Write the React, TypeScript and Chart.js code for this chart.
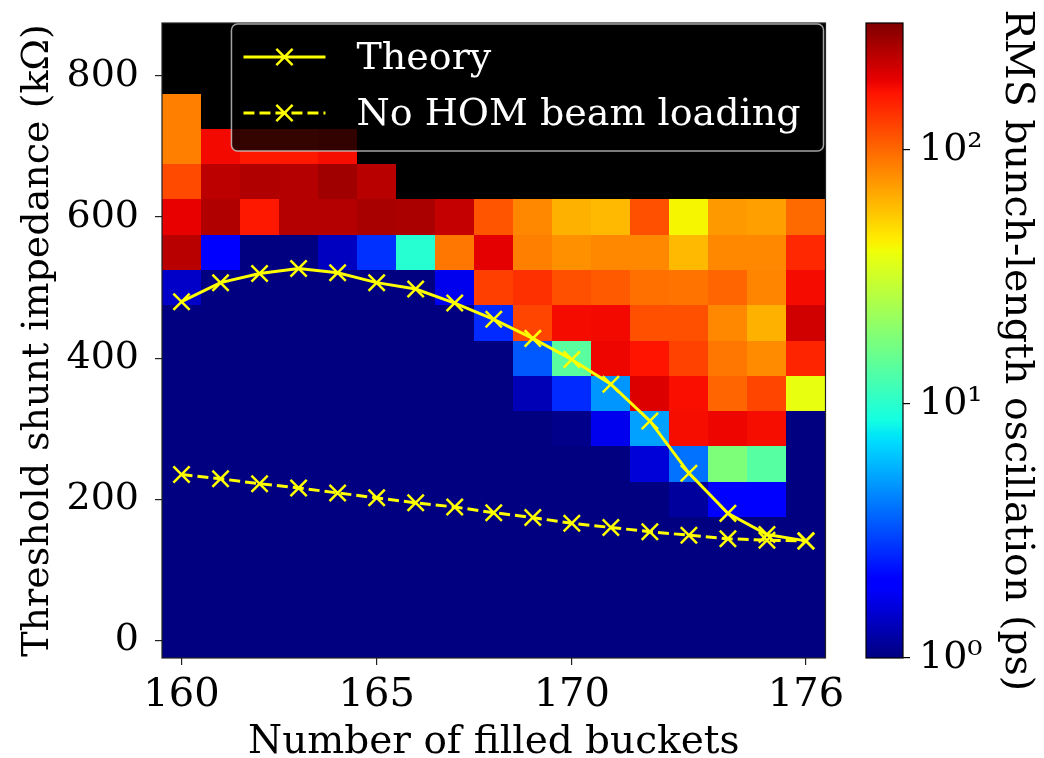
import React, { useEffect, useRef } from 'react';
import { Chart, registerables } from 'chart.js';

Chart.register(...registerables);

// ---------------- data ----------------
const buckets = [160, 161, 162, 163, 164, 165, 166, 167, 168, 169, 170, 171, 172, 173, 174, 175, 176];
const xTicks = [160, 165, 170, 176];
const yTicks = [0, 200, 400, 600, 800];
const cbTicks = [1, 10, 100];
const cbMin = 1;
const cbMax = 316.2;
const rowStep = 50; // kΩ between simulated impedance rows
const colStep = 1; // buckets between simulated columns

const N = null;
// RMS bunch-length oscillation (ps) per impedance row, one value per bucket count
const rms750 = [87, N, N, N, N, N, N, N, N, N, N, N, N, N, N, N, N];
const rms700 = [87, 178, 163, 163, 175, N, N, N, N, N, N, N, N, N, N, N, N];
const rms650 = [120, 234, 248, 244, 269, 239, N, N, N, N, N, N, N, N, N, N, N];
const rms600 = [188, 248, 163, 244, 244, 258, 256, 225, 112, 82, 64, 61, 116, 42, 74, 71, 99];
const rms550 = [239, 2.0, 1, 1, 1.38, 2.7, 9.8, 91, 192, 87, 78, 82, 82, 61, 82, 82, 148];
const rms500 = [1.43, 1, 1, 1, 1, 1, 1, 1.73, 128, 141, 116, 109, 95, 93, 102, 84, 176];
const rms450 = [1, 1, 1, 1, 1, 1, 1, 1, 2.6, 124, 176, 178, 116, 116, 82, 64, 212];
const rms400 = [1, 1, 1, 1, 1, 1, 1, 1, 1, 3.4, 14, 183, 167, 126, 91, 80, 151];
const rms350 = [1, 1, 1, 1, 1, 1, 1, 1, 1, 1.32, 2.6, 4.8, 200, 173, 102, 124, 38];
const rms300 = [1, 1, 1, 1, 1, 1, 1, 1, 1, 1, 1.06, 1.73, 5.1, 175, 183, 175, 1];
const rms250 = [1, 1, 1, 1, 1, 1, 1, 1, 1, 1, 1, 1, 1.55, 3.9, 18, 13.6, 1];
const rms200 = [1, 1, 1, 1, 1, 1, 1, 1, 1, 1, 1, 1, 1, 1.15, 2.0, 1.9, 1];
const rms150 = [1, 1, 1, 1, 1, 1, 1, 1, 1, 1, 1, 1, 1, 1, 1, 1, 1];
const rms100 = [1, 1, 1, 1, 1, 1, 1, 1, 1, 1, 1, 1, 1, 1, 1, 1, 1];
const rms50 = [1, 1, 1, 1, 1, 1, 1, 1, 1, 1, 1, 1, 1, 1, 1, 1, 1];
const rms0 = [1, 1, 1, 1, 1, 1, 1, 1, 1, 1, 1, 1, 1, 1, 1, 1, 1];

const impedanceRows = [750, 700, 650, 600, 550, 500, 450, 400, 350, 300, 250, 200, 150, 100, 50, 0];
const rmsRows = [rms750, rms700, rms650, rms600, rms550, rms500, rms450, rms400, rms350, rms300, rms250, rms200, rms150, rms100, rms50, rms0];

const theoryThreshold = [480, 507, 520, 527, 521, 507, 498, 478, 455, 428, 398, 363, 311, 237, 180, 150, 141];
const noHomThreshold = [235, 229, 222, 216, 209, 202, 195, 189, 181, 174, 166, 160, 154, 149, 144, 142, 141];

// ---------------- styling helpers ----------------
const FONT = '"DejaVu Serif", serif';
const jetR = [[0, 0], [0.35, 0], [0.66, 1], [0.89, 1], [1, 0.5]];
const jetG = [[0, 0], [0.125, 0], [0.375, 1], [0.64, 1], [0.91, 0], [1, 0]];
const jetB = [[0, 0.5], [0.11, 1], [0.34, 1], [0.65, 0], [1, 0]];
function seg(pts: number[][], t: number) {
  for (let i = 1; i < pts.length; i++) {
    if (t <= pts[i][0]) {
      const [x0, y0] = pts[i - 1];
      const [x1, y1] = pts[i];
      return y0 + ((t - x0) / (x1 - x0)) * (y1 - y0);
    }
  }
  return pts[pts.length - 1][1];
}
function jet(v: number) {
  let t = (Math.log10(v) - Math.log10(cbMin)) / (Math.log10(cbMax) - Math.log10(cbMin));
  t = Math.max(0, Math.min(1, t));
  const r = Math.round(seg(jetR, t) * 255);
  const g = Math.round(seg(jetG, t) * 255);
  const b = Math.round(seg(jetB, t) * 255);
  return `rgb(${r},${g},${b})`;
}
const SUP: Record<number, string> = { 0: '\u2070', 1: '\u00b9', 2: '\u00b2', 3: '\u00b3' };

const zeroPad = (s: any) => {
  s.paddingTop = 0;
  s.paddingBottom = 0;
  s.paddingLeft = 0;
  s.paddingRight = 0;
};

const heatPlugin = {
  id: 'heatmap',
  beforeDatasetsDraw(chart: any) {
    const { ctx, chartArea: a, scales } = chart;
    const xs = scales.x;
    const ys = scales.y;
    ctx.save();
    ctx.fillStyle = '#000';
    ctx.fillRect(a.left, a.top, a.width, a.height);
    ctx.beginPath();
    ctx.rect(a.left, a.top, a.width, a.height);
    ctx.clip();
    rmsRows.forEach((row, ri) => {
      const yc = impedanceRows[ri];
      row.forEach((v, ci) => {
        if (v == null) return;
        const xc = buckets[ci];
        const x0 = Math.round(xs.getPixelForValue(xc - colStep / 2));
        const x1 = Math.round(xs.getPixelForValue(xc + colStep / 2));
        const y0 = Math.round(ys.getPixelForValue(yc + rowStep / 2));
        const y1 = Math.round(ys.getPixelForValue(yc - rowStep / 2));
        ctx.fillStyle = jet(v);
        ctx.fillRect(x0, y0, x1 - x0, y1 - y0);
      });
    });
    ctx.restore();
  },
  afterDatasetsDraw(chart: any) {
    const { ctx, chartArea: a } = chart;
    ctx.save();
    // frame
    ctx.strokeStyle = '#222';
    ctx.lineWidth = 1.2;
    ctx.strokeRect(a.left, a.top, a.width, a.height);

    // legend
    ctx.font = `38px ${FONT}`;
    const ds = chart.data.datasets;
    const maxW = Math.max(...ds.map((d: any) => ctx.measureText(d.label).width));
    const padL = 12, handleW = 82, gap = 31, padR = 23;
    const w = padL + handleW + gap + maxW + padR;
    const h = 127;
    const right = a.right - 2;
    const top = a.top + 1;
    const left = right - w;
    ctx.beginPath();
    (ctx as any).roundRect(left, top, w, h, 6);
    ctx.fillStyle = 'rgba(0,0,0,0.8)';
    ctx.fill();
    ctx.strokeStyle = 'rgba(204,204,204,0.8)';
    ctx.lineWidth = 1.5;
    ctx.stroke();
    ds.forEach((d: any, i: number) => {
      const cy = top + 35 + i * 56;
      const hx0 = left + padL;
      const hx1 = hx0 + handleW;
      ctx.strokeStyle = d.borderColor;
      ctx.lineWidth = d.borderWidth;
      ctx.setLineDash(d.borderDash || []);
      ctx.beginPath();
      ctx.moveTo(hx0, cy - 2);
      ctx.lineTo(hx1, cy - 2);
      ctx.stroke();
      ctx.setLineDash([]);
      const mx = (hx0 + hx1) / 2;
      const r = d.pointRadius * Math.SQRT1_2;
      ctx.lineWidth = d.pointBorderWidth;
      ctx.beginPath();
      ctx.moveTo(mx - r, cy - 2 - r);
      ctx.lineTo(mx + r, cy - 2 + r);
      ctx.moveTo(mx + r, cy - 2 - r);
      ctx.lineTo(mx - r, cy - 2 + r);
      ctx.stroke();
      ctx.fillStyle = '#fff';
      ctx.textBaseline = 'middle';
      ctx.textAlign = 'left';
      ctx.fillText(d.label, hx1 + gap, cy);
    });
    ctx.restore();
  },
};

const colorbarPlugin = {
  id: 'colorbar',
  beforeDatasetsDraw(chart: any) {
    const { ctx, chartArea: a, scales } = chart;
    const ys = scales.y;
    ctx.save();
    for (let py = Math.floor(a.top); py < Math.ceil(a.bottom); py++) {
      const v = ys.getValueForPixel(py + 0.5);
      ctx.fillStyle = jet(v);
      ctx.fillRect(a.left, py, a.width, 1);
    }
    ctx.strokeStyle = '#000';
    ctx.lineWidth = 1.2;
    ctx.strokeRect(a.left, a.top, a.width, a.height);
    ctx.restore();
  },
};

export default function App() {
  const mainRef = useRef<HTMLCanvasElement>(null);
  const cbRef = useRef<HTMLCanvasElement>(null);

  useEffect(() => {
    Chart.defaults.font.family = FONT;
    const tickColor = '#000';
    const main = new Chart(mainRef.current as HTMLCanvasElement, {
      type: 'line',
      data: {
        datasets: [
          {
            label: 'Theory',
            data: buckets.map((b, i) => ({ x: b, y: theoryThreshold[i] })),
            borderColor: '#ffff00',
            backgroundColor: '#ffff00',
            borderWidth: 3,
            pointStyle: 'crossRot',
            pointRadius: 11.5,
            pointBorderColor: '#ffff00',
            pointBorderWidth: 2.5,
            tension: 0,
            fill: false,
          } as any,
          {
            label: 'No HOM beam loading',
            data: buckets.map((b, i) => ({ x: b, y: noHomThreshold[i] })),
            borderColor: '#ffff00',
            backgroundColor: '#ffff00',
            borderWidth: 3,
            borderDash: [11, 5],
            pointStyle: 'crossRot',
            pointRadius: 11.5,
            pointBorderColor: '#ffff00',
            pointBorderWidth: 2.5,
            tension: 0,
            fill: false,
          } as any,
        ],
      },
      options: {
        animation: false,
        responsive: true,
        maintainAspectRatio: false,
        devicePixelRatio: 1,
        layout: { padding: { top: 23, right: 19.5, left: 0, bottom: 0 } },
        plugins: { legend: { display: false }, tooltip: { enabled: false } },
        scales: {
          x: {
            type: 'linear',
            min: 159.5,
            max: 176.5,
            afterBuildTicks: (s: any) => {
              s.ticks = xTicks.map((v) => ({ value: v }));
            },
            afterFit: (s: any) => {
              s.height = 100;
              zeroPad(s);
            },
            ticks: {
              color: tickColor,
              font: { size: 40, family: FONT, lineHeight: 1 },
              padding: 11,
              maxRotation: 0,
              callback: (v: any) => String(v),
            },
            grid: { drawOnChartArea: false, drawTicks: true, tickLength: 7, color: '#222', lineWidth: 1.2 },
            border: { display: false },
            title: {
              display: true,
              text: 'Number of filled buckets',
              color: '#000',
              font: { size: 39, family: FONT, lineHeight: 1 },
              padding: { top: 0, bottom: -4.5 },
            },
          },
          y: {
            type: 'linear',
            min: -25,
            max: 875,
            afterBuildTicks: (s: any) => {
              s.ticks = yTicks.map((v) => ({ value: v }));
            },
            afterFit: (s: any) => {
              s.width = 162;
              zeroPad(s);
            },
            ticks: {
              color: tickColor,
              font: { size: 38, family: FONT, lineHeight: 1 },
              padding: 16,
              callback: (v: any) => String(v),
            },
            grid: { drawOnChartArea: false, drawTicks: true, tickLength: 7, color: '#222', lineWidth: 1.2 },
            border: { display: false },
            title: {
              display: true,
              text: 'Threshold shunt impedance (kΩ)',
              color: '#000',
              font: { size: 38, family: FONT, lineHeight: 1 },
              padding: { top: 19.5, bottom: 0 },
            },
          },
        },
      } as any,
      plugins: [heatPlugin],
    });

    const cb = new Chart(cbRef.current as HTMLCanvasElement, {
      type: 'line',
      data: { datasets: [] },
      options: {
        animation: false,
        responsive: true,
        maintainAspectRatio: false,
        devicePixelRatio: 1,
        layout: { padding: { top: 23, left: 21, right: 0, bottom: 100 } },
        plugins: { legend: { display: false }, tooltip: { enabled: false } },
        scales: {
          x: { type: 'linear', display: false, min: 0, max: 1 },
          y: {
            type: 'logarithmic',
            position: 'right',
            min: cbMin,
            max: cbMax,
            afterBuildTicks: (s: any) => {
              s.ticks = cbTicks.map((v) => ({ value: v }));
            },
            afterFit: (s: any) => {
              s.width = 141;
              zeroPad(s);
            },
            ticks: {
              color: tickColor,
              font: { size: 38, family: FONT, lineHeight: 1 },
              padding: 9,
              callback: (v: any) => '10' + SUP[Math.round(Math.log10(v))],
            },
            grid: { drawOnChartArea: false, drawTicks: true, tickLength: 7, color: '#000', lineWidth: 1.2 },
            border: { display: false },
            title: {
              display: true,
              text: '\u2002RMS bunch-length oscillation (ps)',
              color: '#000',
              font: { size: 39.5, family: FONT, lineHeight: 1 },
              padding: { top: 8, bottom: 0 },
            },
          },
        },
      } as any,
      plugins: [colorbarPlugin],
    });

    return () => {
      main.destroy();
      cb.destroy();
    };
  }, []);

  return (
    <div style={{ position: 'fixed', left: 0, top: 0, width: 1044, height: 758, background: '#fff', overflow: 'hidden' }}>
      <div style={{ position: 'absolute', left: 0, top: 0, width: 845, height: 758 }}>
        <canvas ref={mainRef} />
      </div>
      <div style={{ position: 'absolute', left: 845, top: 0, width: 199, height: 758 }}>
        <canvas ref={cbRef} />
      </div>
    </div>
  );
}
